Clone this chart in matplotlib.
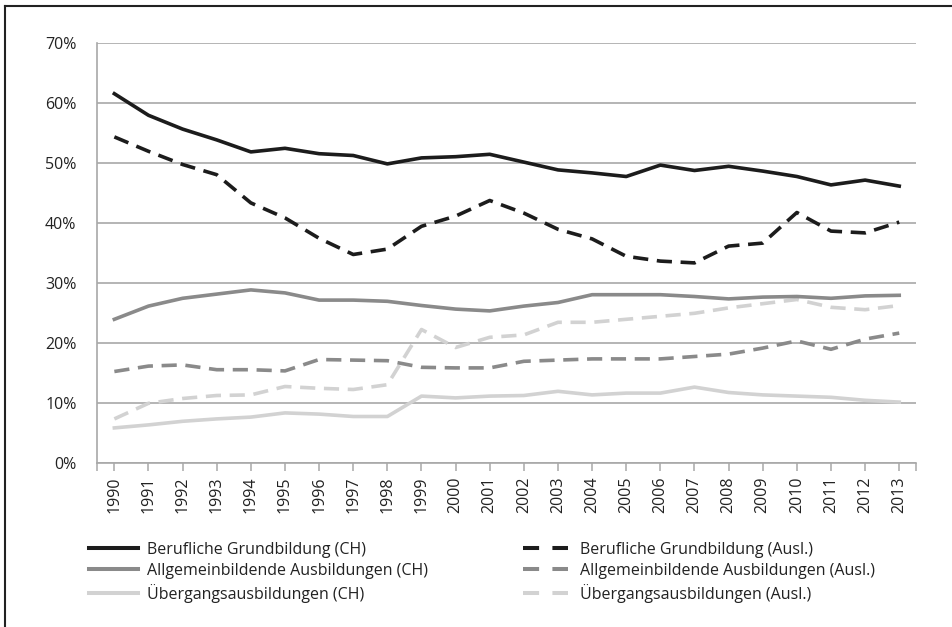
import matplotlib
matplotlib.use("Agg")
import matplotlib.pyplot as plt
from matplotlib.lines import Line2D
import numpy as np

years = list(range(1990, 2014))
berufl_ch = [61.5, 57.9, 55.6, 53.8, 51.8, 52.4, 51.5, 51.2, 49.8, 50.8, 51.0, 51.4,
             50.1, 48.8, 48.3, 47.7, 49.6, 48.7, 49.4, 48.6, 47.7, 46.3, 47.1, 46.1]
berufl_ausl = [54.3, 51.9, 49.7, 48.0, 43.3, 40.8, 37.4, 34.7, 35.6, 39.4, 41.1, 43.7,
               41.6, 38.9, 37.3, 34.4, 33.6, 33.3, 36.1, 36.6, 41.7, 38.6, 38.3, 40.1]
allg_ch = [23.9, 26.1, 27.4, 28.1, 28.8, 28.3, 27.1, 27.1, 26.9, 26.2, 25.6, 25.3,
           26.1, 26.7, 28.0, 28.0, 28.0, 27.7, 27.3, 27.6, 27.7, 27.4, 27.8, 27.9]
allg_ausl = [15.2, 16.1, 16.3, 15.5, 15.5, 15.3, 17.2, 17.1, 17.0, 15.9, 15.8, 15.8,
             16.9, 17.1, 17.3, 17.3, 17.3, 17.7, 18.1, 19.1, 20.3, 18.9, 20.6, 21.6]
ueberg_ch = [5.8, 6.3, 6.9, 7.3, 7.6, 8.3, 8.1, 7.7, 7.7, 11.1, 10.8, 11.1,
             11.2, 11.9, 11.3, 11.6, 11.6, 12.6, 11.7, 11.3, 11.1, 10.9, 10.4, 10.1]
ueberg_ausl = [7.3, 9.9, 10.7, 11.2, 11.3, 12.7, 12.4, 12.2, 13.0, 22.2, 19.2, 20.9,
               21.3, 23.4, 23.4, 23.9, 24.4, 24.9, 25.8, 26.5, 27.2, 25.9, 25.5, 26.2]
yticks = [0, 10, 20, 30, 40, 50, 60, 70]
ytick_labels = ["0%", "10%", "20%", "30%", "40%", "50%", "60%", "70%"]
labels_ch = ["Berufliche Grundbildung (CH)", "Allgemeinbildende Ausbildungen (CH)",
             "Übergangsausbildungen (CH)"]
labels_ausl = ["Berufliche Grundbildung (Ausl.)", "Allgemeinbildende Ausbildungen (Ausl.)",
               "Übergangsausbildungen (Ausl.)"]

plt.rcParams['font.family'] = ['Open Sans', 'DejaVu Sans']

W, H = 953, 627
fig = plt.figure(figsize=(W / 100, H / 100), dpi=100)
ax = fig.add_axes([97.3 / W, 1 - 462.7 / H, (916.3 - 97.3) / W, (462.7 - 42.7) / H])

black = "#1c1c1c"
dgray = "#8a8a8a"
lgray = "#d2d2d2"
grid_c = "#a8a8a8"
txt_c = "#222222"
lw = 2.6
dash = (4.2, 2.4)
fs = 11.5

x = np.arange(len(years))
series = [
    (berufl_ch, black, '-'), (allg_ch, dgray, '-'), (ueberg_ch, lgray, '-'),
    (berufl_ausl, black, '--'), (allg_ausl, dgray, '--'), (ueberg_ausl, lgray, '--'),
]
order = [2, 5, 1, 4, 0, 3]
for i in order:
    vals, c, ls = series[i]
    if ls == '--':
        ax.plot(x, vals, color=c, lw=lw, dashes=dash, solid_joinstyle='round', zorder=3)
    else:
        ax.plot(x, vals, color=c, lw=lw, solid_joinstyle='round', zorder=3)

ax.set_xlim(-0.5, len(years) - 0.5)
ax.set_ylim(0, 70)
ax.set_yticks(yticks)
ax.set_yticklabels(ytick_labels)
ax.set_xticks(x)
ax.set_xticklabels([str(y) for y in years], rotation=90)
ax.set_xticks([-0.5, len(years) - 0.5], minor=True)
ax.tick_params(axis='y', length=0, pad=15, labelsize=fs, labelcolor=txt_c)
ax.tick_params(axis='x', which='both', length=6, width=1.1, color=grid_c, pad=4,
               labelsize=fs, labelcolor=txt_c)
ax.yaxis.grid(True, color=grid_c, lw=1.2)
ax.set_axisbelow(True)
for s in ['top', 'right']:
    ax.spines[s].set_visible(False)
for s in ['left', 'bottom']:
    ax.spines[s].set_color(grid_c)
    ax.spines[s].set_linewidth(1.2)

# legends
llw = 2.9
h_ch = [Line2D([], [], color=c, lw=llw) for c in (black, dgray, lgray)]
h_au = [Line2D([], [], color=c, lw=llw, dashes=(4.0, 3.3)) for c in (black, dgray, lgray)]
common = dict(frameon=False, fontsize=fs, labelspacing=0.3, borderaxespad=0, borderpad=0)
leg1 = fig.legend(h_ch, labels_ch, loc='upper left', handlelength=3.06, handletextpad=0.56,
                  bbox_to_anchor=(89 / W, 1 - 542 / H), **common)
leg2 = fig.legend(h_au, labels_ausl, loc='upper left', handlelength=2.8, handletextpad=0.8,
                  bbox_to_anchor=(523 / W, 1 - 542 / H), **common)
for lg in (leg1, leg2):
    for t in lg.get_texts():
        t.set_color(txt_c)

# border (left and top)
fig.add_artist(Line2D([4.5 / W, 4.5 / W], [0, 1 - 6 / H], color="#222222", lw=1.5))
fig.add_artist(Line2D([4.5 / W, 1], [1 - 6 / H, 1 - 6 / H], color="#222222", lw=1.5))

fig.savefig("out.png", dpi=100)
